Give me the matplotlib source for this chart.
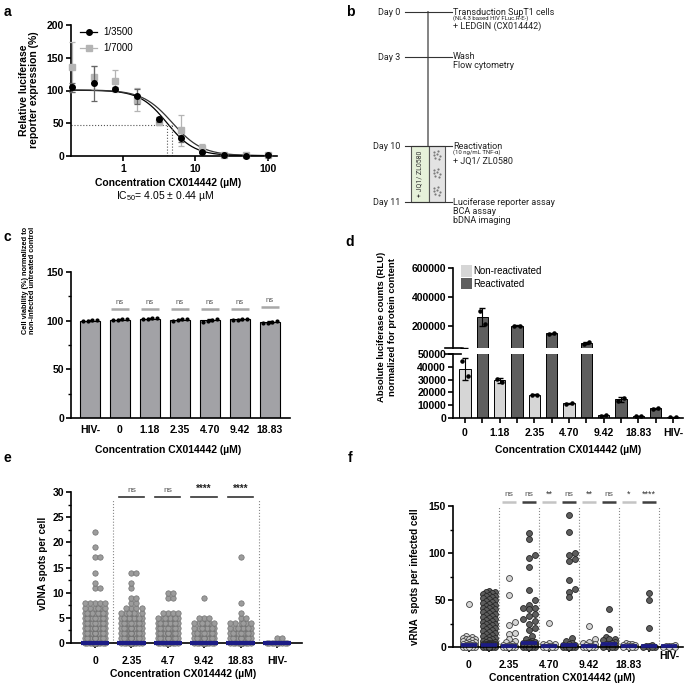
import numpy as np
import matplotlib
matplotlib.use('Agg')
import matplotlib.pyplot as plt
import matplotlib.transforms as mtransforms
from matplotlib.patches import Rectangle, Patch
from matplotlib.lines import Line2D
from matplotlib.ticker import MultipleLocator, NullLocator, FixedLocator

plt.rcParams['font.family'] = ['Liberation Sans', 'DejaVu Sans']
plt.rcParams['font.weight'] = 'bold'
plt.rcParams['mathtext.default'] = 'regular'
plt.rcParams['axes.linewidth'] = 1.2
plt.rcParams['xtick.major.width'] = 1.2
plt.rcParams['ytick.major.width'] = 1.2
plt.rcParams['ytick.minor.width'] = 1.0
plt.rcParams['xtick.major.size'] = 3.5
plt.rcParams['ytick.major.size'] = 3.5
plt.rcParams['ytick.minor.size'] = 2.2
plt.rcParams['xtick.labelsize'] = 7.5
plt.rcParams['ytick.labelsize'] = 7.5
plt.rcParams['xtick.major.pad'] = 2
plt.rcParams['ytick.major.pad'] = 1.5

W = H = 685

# ---------------- data ----------------
# a: dose response
conc_a = [0.195, 0.39, 0.78, 1.56, 3.125, 6.25, 12.5, 25, 50, 100]
lucif_3500 = [105, 111, 103, 91, 56, 27, 6, 2, 0.5, 2]
err_3500 = [7, 27, 2, 12, 4, 5, 2, 1, 0.5, 1]
lucif_7000 = [136, 120, 114, 86, 52, 39, 12, 2, 1, 1]
err_7000 = [38, 17, 17, 18, 5, 24, 7, 1, 1, 1]
# 4PL fit parameters: top, bottom, IC50, hill
fit_3500 = (100.5, 0.5, 4.05, 2.3)
fit_7000 = (101.0, 0.5, 4.8, 2.1)
ic50_text = 'IC$_{50}$= 4.05 ± 0.44 µM'

# c: viability, 4 replicates per condition
conc_c = ['HIV-', '0', '1.18', '2.35', '4.70', '9.42', '18.83']
via_rep = [[99.6, 100.0, 100.2, 100.2],
           [100.3, 101.0, 101.2, 101.5],
           [101.5, 102.0, 102.3, 102.5],
           [100.0, 101.0, 101.5, 101.5],
           [99.0, 100.0, 101.0, 101.8],
           [100.5, 101.0, 101.8, 102.2],
           [97.5, 98.0, 98.5, 99.8]]
via_sig_y = [None, 112, 112, 112, 112, 112, 114]

# d: luciferase counts, 2 replicates
conc_d = ['0', '1.18', '2.35', '4.70', '9.42', '18.83']
nonreact_rep = [[44500, 32500], [30500, 28200], [17800, 18300],
                [11200, 11600], [1800, 2200], [1300, 1600]]
react_rep = [[305000, 218000], [200000, 204000], [148000, 152000],
             [80000, 90000], [13200, 16000], [7300, 7600]]
hiv_rep = [400, 600]

# e: vDNA spots per cell, (value, number of cells)
conc_e = ['0', '2.35', '4.7', '9.42', '18.83', 'HIV-']
vdna_0 = [(0, 95), (1, 14), (2, 12), (3, 12), (4, 10), (5, 10), (6, 9), (7, 6),
          (8, 5), (11, 2), (12, 1), (14, 1), (17, 2), (19, 1), (22, 1)]
vdna_235 = [(0, 85), (1, 14), (2, 12), (3, 12), (4, 10), (5, 9), (6, 7), (7, 4),
            (8, 2), (9, 2), (11, 1), (12, 1), (14, 2)]
vdna_47 = [(0, 70), (1, 12), (2, 12), (3, 10), (4, 9), (5, 8), (6, 4), (9, 2), (10, 2)]
vdna_942 = [(0, 50), (1, 12), (2, 10), (3, 8), (4, 7), (5, 3), (9, 1)]
vdna_1883 = [(0, 50), (1, 12), (2, 10), (3, 8), (4, 6), (5, 2), (6, 1), (8, 1), (17, 1)]
vdna_hiv = [(0, 12), (1, 2)]
vdna_sig = ['ns', 'ns', '****', '****']

# f: vRNA spots per infected cell
conc_f = ['0', '2.35', '4.70', '9.42', '18.83', 'HIV-']
vrna_0_nr = [46, 12, 11, 10, 9, 8, 8, 7, 6, 5, 5, 4, 4, 3, 3, 2, 2, 2, 2,
             1, 1, 1, 1, 1, 0, 0, 0, 0, 0, 0]
vrna_0_r = ([60, 59, 58, 57, 56, 55, 54, 54, 53, 52, 51, 50, 49, 48, 47, 46, 45, 44,
             43, 42, 41, 40, 39, 38, 37, 36, 35, 34, 33, 32, 31, 30, 29, 28, 27, 26,
             25, 24, 23, 22, 21, 20, 19, 18, 17, 16, 15, 14, 13, 12, 11, 10, 9, 8,
             7, 6, 5, 5, 4, 4] + [3] * 6 + [2] * 15 + [1] * 25 + [0] * 30)
vrna_235_nr = [73, 55, 27, 23, 15, 14, 8, 6, 5, 3, 2, 2, 1, 1, 1, 1] + [0] * 8
vrna_235_r = ([121, 115, 98, 95, 85, 61, 50, 45, 42, 42, 40, 35, 33, 30, 28, 25,
               20, 18, 12, 8, 6] + [5] * 2 + [4] * 4 + [3] * 4 + [2] * 5 + [1] * 6 + [0] * 8)
vrna_470_nr = [26, 4, 3, 3, 2, 1, 1, 0, 0, 0, 0, 0]
vrna_470_r = [140, 122, 100, 98, 94, 91, 71, 62, 59, 53, 10, 6, 4, 3, 2, 2,
              1, 1, 1] + [0] * 10
vrna_942_nr = [22, 9, 5, 4, 3, 2, 1, 1, 0, 0, 0, 0, 0, 0]
vrna_942_r = [40, 19, 11, 9, 8, 7, 5, 4, 3, 3, 2, 2, 2, 1, 1, 0, 0, 0, 0]
vrna_1883_nr = [4, 3, 3, 2, 2, 1, 1, 1, 0, 0, 0, 0]
vrna_1883_r = [57, 50, 20, 2, 1, 1, 0, 0, 0, 0]
vrna_hiv = [2, 1, 1, 1, 0, 0, 0]
vrna_sig = ['ns', 'ns', '**', 'ns', '**', 'ns', '*', '****']

LIGHT = '#d6d6d6'
DARK = '#5e5e5e'
NAVY = '#1c1c86'
ROBOTO = ['Roboto', 'DejaVu Sans']


def px_rect(l, t, r, b):
    return [l / W, 1 - b / H, (r - l) / W, (b - t) / H]


def style(ax):
    ax.spines['top'].set_visible(False)
    ax.spines['right'].set_visible(False)
    ax.tick_params(direction='out')


def four_pl(x, p):
    top, bottom, ic50, hill = p
    return bottom + (top - bottom) / (1 + (x / ic50) ** hill)


def swarm(vals, dia_x, dia_y, half):
    # greedy beeswarm: nearest free slot, else the least crowded one
    vals = np.asarray(vals, float)
    step = dia_x * 0.5
    cands = [0.0]
    k = 1
    while k * step <= half + 1e-9:
        cands += [k * step, -k * step]
        k += 1
    px = np.zeros(len(vals))
    py = np.zeros(len(vals))
    out = np.zeros(len(vals))
    n = 0
    for i in np.argsort(vals, kind='stable'):
        v = vals[i]
        best, best_d = 0.0, -1.0
        for c in cands:
            if n:
                d = np.min(((px[:n] - c) / dia_x) ** 2 + ((py[:n] - v) / dia_y) ** 2)
            else:
                d = np.inf
            if d >= 0.999:
                best = c
                break
            if d > best_d:
                best_d, best = d, c
        out[i] = best
        px[n], py[n] = best, v
        n += 1
    return out


fig = plt.figure(figsize=(6.85, 6.85), dpi=100)
ov = fig.add_axes([0, 0, 1, 1], zorder=10)
ov.set_xlim(0, W)
ov.set_ylim(H, 0)
ov.axis('off')
ov.patch.set_visible(False)

for lab, x, y in [('a', 7, 12), ('b', 350, 12), ('c', 7, 237), ('d', 350, 242),
                  ('e', 7, 458), ('f', 350, 458)]:
    ov.text(x, y, lab, fontsize=10, fontweight='bold', ha='center', va='center')

# ---------------- a ----------------
ax = fig.add_axes(px_rect(71, 25, 277, 156))
style(ax)
xs = np.logspace(np.log10(0.19), np.log10(100), 300)
ax.plot(xs, four_pl(xs, fit_3500), color='black', lw=0.9, zorder=2)
ax.plot(xs, four_pl(xs, fit_7000), color='#333333', lw=0.9, zorder=2)
ax.errorbar(conc_a, lucif_7000, yerr=err_7000, fmt='s', color='#b4b4b4', ms=4,
            elinewidth=0.9, capsize=2, capthick=0.9, zorder=3, clip_on=False)
ax.errorbar(conc_a, lucif_3500, yerr=err_3500, fmt='o', mfc='black', mec='black', ms=4,
            elinewidth=0.9, ecolor='#666666', capsize=2, capthick=0.9, zorder=4,
            clip_on=False)
ax.plot([0.19, fit_7000[2]], [48, 48], ls=':', color='#555555', lw=0.8)
ax.plot([fit_3500[2], fit_3500[2]], [0, 48], ls=':', color='#555555', lw=0.8)
ax.plot([fit_7000[2], fit_7000[2]], [0, 48], ls=':', color='#555555', lw=0.8)
ax.set_xscale('log')
ax.set_xlim(0.19, 135)
ax.set_ylim(0, 200)
ax.xaxis.set_major_locator(FixedLocator([1, 10, 100]))
ax.xaxis.set_minor_locator(NullLocator())
ax.set_xticklabels(['1', '10', '100'])
ax.set_yticks([0, 50, 100, 150, 200])
h1 = Line2D([], [], color='black', marker='o', ms=4, lw=0.9)
h2 = Line2D([], [], color='#b4b4b4', marker='s', ms=4, lw=0.9)
leg = ax.legend([h1, h2], ['1/3500', '1/7000'], loc='upper left', frameon=False,
                fontsize=7, handlelength=1.8, handletextpad=0.6, borderaxespad=0.1,
                bbox_to_anchor=(0.02, 1.02), labelspacing=0.6)
for t in leg.get_texts():
    t.set_fontweight('normal')
ov.text(29, 90, 'Relative luciferase\nreporter expression (%)', rotation=90,
        ha='center', va='center', fontsize=7.5, linespacing=1.1)
ov.text(168, 183, 'Concentration CX014442 (µM)', ha='center', va='center', fontsize=7.5)
ov.text(165, 196, ic50_text, ha='center', va='center', fontsize=7.5, fontweight='normal')

# ---------------- b ----------------
day_y = [12, 57, 146, 202]
day_lab = ['Day 0', 'Day 3', 'Day 10', 'Day 11']
ov.plot([428, 428], [day_y[0], day_y[2]], color='#7a7a7a', lw=1.3)
ov.add_patch(Rectangle((411, day_y[2]), 18, day_y[3] - day_y[2], fc='#e6f1da',
                       ec='#555555', lw=0.8))
ov.add_patch(Rectangle((429, day_y[2]), 16, day_y[3] - day_y[2], fc='#e3e3e3',
                       ec='#555555', lw=0.8))
dot_dx = [-2.5, 1.5, -3, 0.5, 3, -1.5, 2]
dot_dy = [-3.5, -4, -0.5, -1, 0.5, 3, 3.5]
for cy in [155, 173, 191]:
    ov.scatter([437 + d for d in dot_dx], [cy + d for d in dot_dy], s=2.5,
               color='#7a7a7a', lw=0)
ov.text(420, 174, '+ JQ1/ ZL0580', rotation=90, ha='center', va='center',
        fontsize=5, fontweight='normal', family=ROBOTO, color='#333333')
for y, lab in zip(day_y, day_lab):
    ov.plot([405, 452], [y, y], color='#333333', lw=0.8)
    ov.text(400, y, lab, ha='right', va='center', fontsize=6.5, fontweight='normal',
            family=ROBOTO, color='#222222')
b_texts = [(12, 'Transduction SupT1 cells', 6.5), (18.5, '(NL4.3 based HIV FLuc.R-E-)', 4.3),
           (26, '+ LEDGIN (CX014442)', 6.5), (56, 'Wash', 6.5), (65, 'Flow cytometry', 6.5),
           (146, 'Reactivation', 6.5), (152.5, '(10 ng/mL TNF-α)', 4.3),
           (161, '+ JQ1/ ZL0580', 6.5), (202, 'Luciferase reporter assay', 6.5),
           (211, 'BCA assay', 6.5), (220, 'bDNA imaging', 6.5)]
for y, s, fs in b_texts:
    ov.text(453, y, s, ha='left', va='center', fontsize=fs, fontweight='normal',
            family=ROBOTO, color='#222222')

# ---------------- c ----------------
ax = fig.add_axes(px_rect(71, 272, 290, 418))
style(ax)
pos_c = np.arange(len(conc_c))
via_mean = [np.mean(r) for r in via_rep]
via_sd = [np.std(r, ddof=1) for r in via_rep]
ax.bar(pos_c, via_mean, width=0.68, color='#a2a2a6', edgecolor='black', lw=0.8, zorder=2)
ax.errorbar(pos_c, via_mean, yerr=via_sd, fmt='none', ecolor='black', elinewidth=0.8,
            capsize=2, zorder=3)
for p, r in zip(pos_c, via_rep):
    ax.scatter(p + np.linspace(-0.22, 0.22, len(r)), r, s=4, color='black', zorder=4)
for p, y in zip(pos_c, via_sig_y):
    if y is None:
        continue
    ax.plot([p - 0.3, p + 0.3], [y, y], color='#a8a8a8', lw=1.8, solid_capstyle='butt')
    ax.text(p, y + 3.5, 'ns', ha='center', va='bottom', fontsize=5.5, fontweight='normal',
            color='#555555')
ax.set_xlim(-0.63, 6.67)
ax.set_ylim(0, 150)
ax.set_xticks(pos_c)
ax.set_xticklabels(conc_c)
ax.tick_params(axis='x', length=0, pad=5)
ax.set_yticks([0, 50, 100, 150])
ax.yaxis.set_minor_locator(MultipleLocator(25))
ov.text(29, 280, 'Cell viability (%) normalized to\nnon-infected untreated control',
        rotation=90, ha='center', va='center', fontsize=5.3, linespacing=1.15)
ov.text(168, 450, 'Concentration CX014442 (µM)', ha='center', va='center', fontsize=7.5)

# ---------------- d ----------------
nr_mean = [np.mean(r) for r in nonreact_rep] + [np.mean(hiv_rep)]
nr_sd = [np.std(r, ddof=1) for r in nonreact_rep] + [np.std(hiv_rep, ddof=1)]
re_mean = [np.mean(r) for r in react_rep]
re_sd = [np.std(r, ddof=1) for r in react_rep]
pos_nr = np.arange(0, 13, 2)
pos_re = np.arange(1, 12, 2)
reps_all = nonreact_rep + [hiv_rep]
axt = fig.add_axes(px_rect(453, 268, 683, 348))
axb = fig.add_axes(px_rect(453, 354, 683, 418))
for a_ in (axt, axb):
    style(a_)
    a_.bar(pos_nr, nr_mean, width=0.65, color=LIGHT, edgecolor='black', lw=0.7, zorder=2)
    a_.bar(pos_re, re_mean, width=0.65, color=DARK, edgecolor='black', lw=0.7, zorder=2)
    a_.errorbar(pos_nr, nr_mean, yerr=nr_sd, fmt='none', ecolor='black', elinewidth=0.8,
                capsize=2, zorder=3)
    a_.errorbar(pos_re, re_mean, yerr=re_sd, fmt='none', ecolor='black', elinewidth=0.8,
                capsize=2, zorder=3)
    for p, r in list(zip(pos_nr, reps_all)) + list(zip(pos_re, react_rep)):
        a_.scatter(p + np.array([-0.15, 0.15]), r, s=5, color='black', zorder=4)
    a_.set_xlim(-0.69, 12.58)
axt.spines['bottom'].set_visible(False)
axt.set_xticks([])
axt.set_ylim(50000, 600000)
axt.set_yticks([200000, 400000, 600000])
axb.set_ylim(0, 50000)
axb.set_yticks(np.arange(0, 50001, 10000))
axb.set_xticks(np.arange(13))
axb.set_xticklabels([lab if i % 2 == 0 else '' for i, lab in
                     enumerate(sum([[c, ''] for c in conc_d], []) + ['HIV-'])])
axb.tick_params(axis='x', pad=4)
for a_, yv in ((axt, 0.0), (axb, 1.0)):
    a_.plot([-0.035, 0.035], [yv, yv], transform=a_.transAxes, color='black', lw=1.2,
            clip_on=False)
leg = axt.legend([Patch(fc=LIGHT, ec='none'), Patch(fc=DARK, ec='none')],
                 ['Non-reactivated', 'Reactivated'], loc='upper left', frameon=False,
                 fontsize=7, handlelength=1.1, handleheight=1.4, handletextpad=0.15,
                 borderaxespad=0.0, bbox_to_anchor=(0.02, 1.08), labelspacing=0.1)
for t in leg.get_texts():
    t.set_fontweight('normal')
ov.text(387, 327, 'Absolute luciferase counts (RLU)\nnormalized for protein content',
        rotation=90, ha='center', va='center', fontsize=6.8, linespacing=1.15)
ov.text(568, 450, 'Concentration CX014442 (µM)', ha='center', va='center', fontsize=7.5)

# ---------------- e ----------------
ax = fig.add_axes(px_rect(71, 492, 302, 643))
style(ax)
e_groups = [vdna_0, vdna_235, vdna_47, vdna_942, vdna_1883, vdna_hiv]
for g, cnt in enumerate(e_groups):
    vals = np.repeat([v for v, n in cnt], [n for v, n in cnt])
    off = swarm(vals, 0.14, 0.95, 0.34)
    ax.scatter(g + off, vals, s=15, color='#9c9c9c', edgecolor='#707070', lw=0.5,
               zorder=2, clip_on=False)
    ax.plot([g - 0.39, g + 0.39], [np.median(vals)] * 2, color=NAVY, lw=3,
            solid_capstyle='butt', zorder=3, clip_on=False)
for xv in (0.5, 4.5):
    ax.plot([xv, xv], [0, 28.5], ls=':', color='#888888', lw=0.8)
for g, s in zip(range(1, 5), vdna_sig):
    ax.plot([g - 0.35, g + 0.35], [29, 29], color='#333333', lw=1.2)
    ax.text(g, 29.6, s, ha='center', va='bottom', fontsize=6 if s == 'ns' else 7,
            fontweight='normal' if s == 'ns' else 'bold',
            color='#555555' if s == 'ns' else '#222222')
ax.set_xlim(-0.66, 5.69)
ax.set_ylim(0, 30)
ax.set_xticks(range(6))
ax.set_xticklabels(conc_e)
ax.tick_params(axis='x', pad=6)
ax.set_yticks(range(0, 31, 5))
ax.yaxis.set_minor_locator(MultipleLocator(2.5))
ov.text(43, 563, 'vDNA spots per cell', rotation=90, ha='center', va='center', fontsize=7.1)
ov.text(183, 674, 'Concentration CX014442 (µM)', ha='center', va='center', fontsize=7.5)

# ---------------- f ----------------
ax = fig.add_axes(px_rect(453, 506, 683, 647))
style(ax)
f_groups = [vrna_0_nr, vrna_0_r, vrna_235_nr, vrna_235_r, vrna_470_nr, vrna_470_r,
            vrna_942_nr, vrna_942_r, vrna_1883_nr, vrna_1883_r, vrna_hiv]
for g, vals in enumerate(f_groups):
    dark = g % 2 == 1
    off = swarm(vals, 0.29, 6.0, 0.4)
    ax.scatter(g + off, vals, s=18, color=DARK if dark else LIGHT,
               edgecolor='#262626' if dark else '#404040', lw=0.6, zorder=2, clip_on=False)
    ax.plot([g - 0.42, g + 0.42], [np.median(vals)] * 2, color=NAVY, lw=2.6,
            solid_capstyle='butt', zorder=3, clip_on=False)
for xv in (1.5, 3.5, 5.5, 7.5, 9.5):
    ax.plot([xv, xv], [0, 150], ls=':', color='#888888', lw=0.8)
for g, s in zip(range(2, 10), vrna_sig):
    ax.plot([g - 0.35, g + 0.35], [154, 154], color='#c4c4c4' if g % 2 == 0 else '#404040',
            lw=1.8, solid_capstyle='butt', clip_on=False)
    ax.text(g, 158, s, ha='center', va='bottom', fontsize=6 if s == 'ns' else 6.5,
            fontweight='normal', color='#555555' if s == 'ns' else '#333333', clip_on=False)
ax.set_xlim(-0.8, 10.7)
ax.set_ylim(0, 150)
ax.set_xticks(range(11))
ax.set_xticklabels([conc_f[g // 2] if g % 2 == 0 else '' for g in range(11)])
ax.tick_params(axis='x', pad=6)
hl = ax.get_xticklabels()[-1]
hl.set_transform(hl.get_transform() + mtransforms.ScaledTranslation(0, 9 / 100,
                                                                    fig.dpi_scale_trans))
ax.set_yticks([0, 50, 100, 150])
ax.yaxis.set_minor_locator(MultipleLocator(25))
ov.text(415, 577, 'vRNA  spots per infected cell', rotation=90, ha='center', va='center',
        fontsize=7.1)
ov.text(562, 678, 'Concentration CX014442 (µM)', ha='center', va='center', fontsize=7.5)

fig.savefig('out.png', dpi=100)
